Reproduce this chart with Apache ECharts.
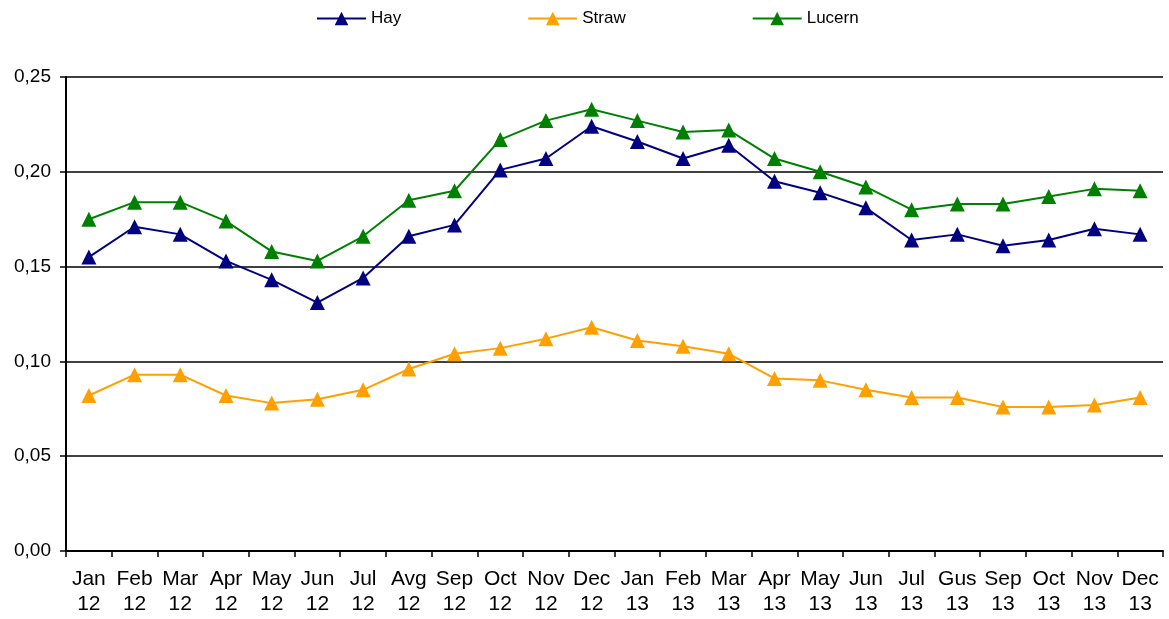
<!DOCTYPE html>
<html>
<head>
<meta charset="utf-8">
<script src="https://cdn.jsdelivr.net/npm/echarts@6/dist/echarts.min.js"></script>
<style>
  html, body { margin: 0; padding: 0; background: #fff; }
  #chart { width: 1169px; height: 619px; }
</style>
</head>
<body>
<div id="chart"></div>
<script>
// categories (month + year shown on two lines)
const months = ['Jan', 'Feb', 'Mar', 'Apr', 'May', 'Jun', 'Jul', 'Avg', 'Sep', 'Oct', 'Nov', 'Dec',
  'Jan', 'Feb', 'Mar', 'Apr', 'May', 'Jun', 'Jul', 'Gus', 'Sep', 'Oct', 'Nov', 'Dec']
const years = ['12', '12', '12', '12', '12', '12', '12', '12', '12', '12', '12', '12',
  '13', '13', '13', '13', '13', '13', '13', '13', '13', '13', '13', '13']

const hay = [0.155, 0.171, 0.167, 0.153, 0.143, 0.131, 0.144, 0.166, 0.172, 0.201, 0.207, 0.224,
  0.216, 0.207, 0.214, 0.195, 0.189, 0.181, 0.164, 0.167, 0.161, 0.164, 0.170, 0.167]
const straw = [0.082, 0.093, 0.093, 0.082, 0.078, 0.080, 0.085, 0.096, 0.104, 0.107, 0.112, 0.118,
  0.111, 0.108, 0.104, 0.091, 0.090, 0.085, 0.081, 0.081, 0.076, 0.076, 0.077, 0.081]
const lucern = [0.175, 0.184, 0.184, 0.174, 0.158, 0.153, 0.166, 0.185, 0.190, 0.217, 0.227, 0.233,
  0.227, 0.221, 0.222, 0.207, 0.200, 0.192, 0.180, 0.183, 0.183, 0.187, 0.191, 0.190]

const categories = months.map((m, i) => m + '\n' + years[i])

const font = 'Liberation Sans, Arial, sans-serif'

const makeSeries = (name, data, color) => ({
  name: name,
  type: 'line',
  data: data,
  symbol: 'triangle',
  symbolSize: 15,
  itemStyle: { color: color },
  lineStyle: { color: color, width: 2 },
  emphasis: { disabled: true }
})

const myChart = echarts.init(document.getElementById('chart'))
myChart.setOption({
  animation: false,
  textStyle: { fontFamily: font },
  legend: {
    top: 5,
    left: 311,
    itemWidth: 49,
    itemHeight: 17,
    itemGap: 126,
    textStyle: { fontSize: 17, color: '#000', fontFamily: font },
    data: ['Hay', 'Straw', 'Lucern']
  },
  grid: {
    left: 66,
    right: 6,
    top: 77,
    bottom: 68
  },
  xAxis: {
    type: 'category',
    data: categories,
    boundaryGap: true,
    axisLine: { lineStyle: { color: '#000', width: 2 } },
    axisTick: { show: true, length: 6, lineStyle: { color: '#000', width: 1.5 } },
    axisLabel: {
      interval: 0,
      color: '#000',
      fontSize: 21,
      lineHeight: 25,
      margin: 16,
      fontFamily: font
    }
  },
  yAxis: {
    type: 'value',
    min: 0,
    max: 0.25,
    interval: 0.05,
    axisLine: { show: true, lineStyle: { color: '#000', width: 2 } },
    axisTick: { show: true, length: 6, lineStyle: { color: '#000', width: 1.5 } },
    splitLine: { lineStyle: { color: '#000', width: 1.5 } },
    axisLabel: {
      color: '#000',
      fontSize: 19,
      margin: 15,
      fontFamily: font,
      formatter: v => v.toFixed(2).replace('.', ',')
    }
  },
  series: [
    makeSeries('Hay', hay, '#000080'),
    makeSeries('Straw', straw, '#FFA000'),
    makeSeries('Lucern', lucern, '#008000')
  ]
})
</script>
</body>
</html>
